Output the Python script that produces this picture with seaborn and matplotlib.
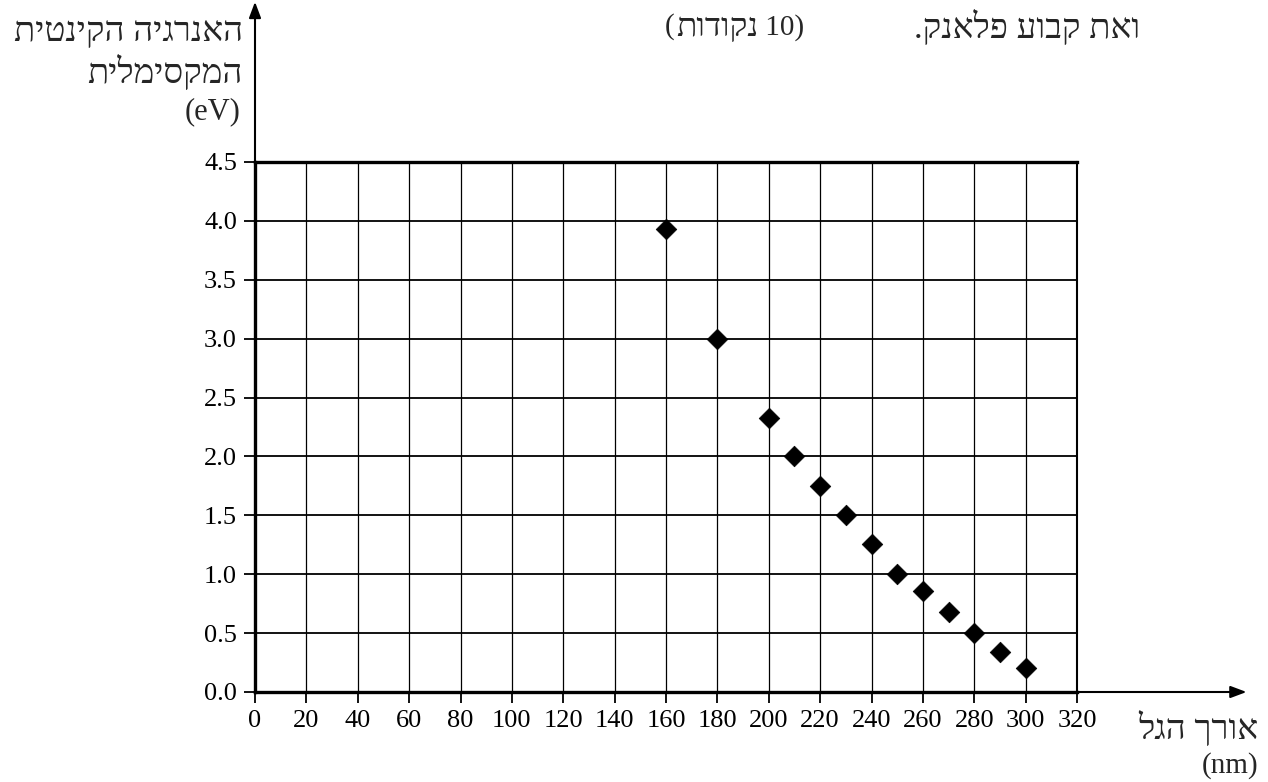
import matplotlib
matplotlib.use("Agg")
import matplotlib.pyplot as plt
import seaborn as sns
import pandas as pd

# data
wavelength_nm = [160, 180, 200, 210, 220, 230, 240, 250, 260, 270, 280, 290, 300]
kinetic_ev = [3.93, 3.0, 2.33, 2.0, 1.75, 1.5, 1.26, 1.0, 0.86, 0.68, 0.5, 0.34, 0.2]
x_ticks = list(range(0, 321, 20))
y_ticks = [0.0, 0.5, 1.0, 1.5, 2.0, 2.5, 3.0, 3.5, 4.0, 4.5]

# hebrew strings (logical order), reversed for drawing since matplotlib has no bidi
y_label_1 = "האנרגיה הקינטית"
y_label_2 = "המקסימלית"
x_label = "אורך הגל"
head_text = "ואת קבוע פלאנק."
points_word = "נקודות"


def rtl(s):
    return s[::-1]


sns.set_theme(style="white")
fonts = ["Liberation Serif", "DejaVu Serif", "DejaVu Sans"]
plt.rcParams["font.family"] = fonts
plt.rcParams["axes.unicode_minus"] = False

df = pd.DataFrame({"wavelength": wavelength_nm, "energy": kinetic_ev})

fig = plt.figure(figsize=(12.68, 7.82), dpi=100)
ax = fig.add_axes([255 / 1268, 1 - 692 / 782, (1077 - 255) / 1268, (692 - 162) / 782])

sns.scatterplot(data=df, x="wavelength", y="energy", marker="D", s=110,
                color="black", edgecolor="black", linewidth=0.5, ax=ax, zorder=5)

ax.set_xlim(0, 320)
ax.set_ylim(0, 4.5)
ax.set_xticks(x_ticks)
ax.set_yticks(y_ticks)
ax.set_yticklabels([f"{v:.1f}" for v in y_ticks])
ax.set_xlabel("")
ax.set_ylabel("")

# grid: thin vertical, slightly heavier horizontal
for xv in x_ticks[1:-1]:
    ax.axvline(xv, color="black", lw=0.9, zorder=1)
for yv in y_ticks[1:-1]:
    ax.axhline(yv, color="black", lw=1.3, zorder=1)

for side in ["top", "bottom", "left"]:
    ax.spines[side].set_linewidth(2.4)
    ax.spines[side].set_color("black")
ax.spines["right"].set_linewidth(1.5)
ax.spines["right"].set_color("black")

ax.tick_params(axis="both", direction="out", length=8, width=1.3, color="black",
               labelsize=19, labelcolor="black", pad=5,
               bottom=True, left=True)

# axis arrows
ax.annotate("", xy=(0, 5.86), xytext=(0, 4.5), xycoords="data",
            arrowprops=dict(arrowstyle="-|>,head_length=0.8,head_width=0.3",
                            color="black", lw=1.5, shrinkA=0, shrinkB=0),
            annotation_clip=False)
ax.annotate("", xy=(386, 0), xytext=(320, 0), xycoords="data",
            arrowprops=dict(arrowstyle="-|>,head_length=0.8,head_width=0.3",
                            color="black", lw=1.5, shrinkA=0, shrinkB=0),
            annotation_clip=False)

# labels
fig.text(243 / 1268, 1 - 33 / 782, rtl(y_label_1), ha="right", va="center", fontsize=25)
fig.text(243 / 1268, 1 - 73 / 782, rtl(y_label_2), ha="right", va="center", fontsize=25)
fig.text(240 / 1268, 1 - 112 / 782, "(eV)", ha="right", va="center", fontsize=22)

fig.text(1258 / 1268, 1 - 729 / 782, rtl(x_label), ha="right", va="center", fontsize=25)
fig.text(1258 / 1268, 1 - 766 / 782, "(nm)", ha="right", va="center", fontsize=21)

fig.text(1140 / 1268, 1 - 28 / 782, rtl(head_text), ha="right", va="center", fontsize=25)

# "(10 נקודות)" drawn in pieces so the hebrew word gets its own size
word = fig.text(676 / 1268, 1 - 28 / 782, rtl(points_word), ha="left", va="center", fontsize=24)
fig.text(675 / 1268, 1 - 27 / 782, "(", ha="right", va="center", fontsize=21)
ax.annotate(" 10)", xy=(1, 0.5), xycoords=word, ha="left", va="center", fontsize=21)

fig.savefig("out.png", dpi=100, facecolor="white")
